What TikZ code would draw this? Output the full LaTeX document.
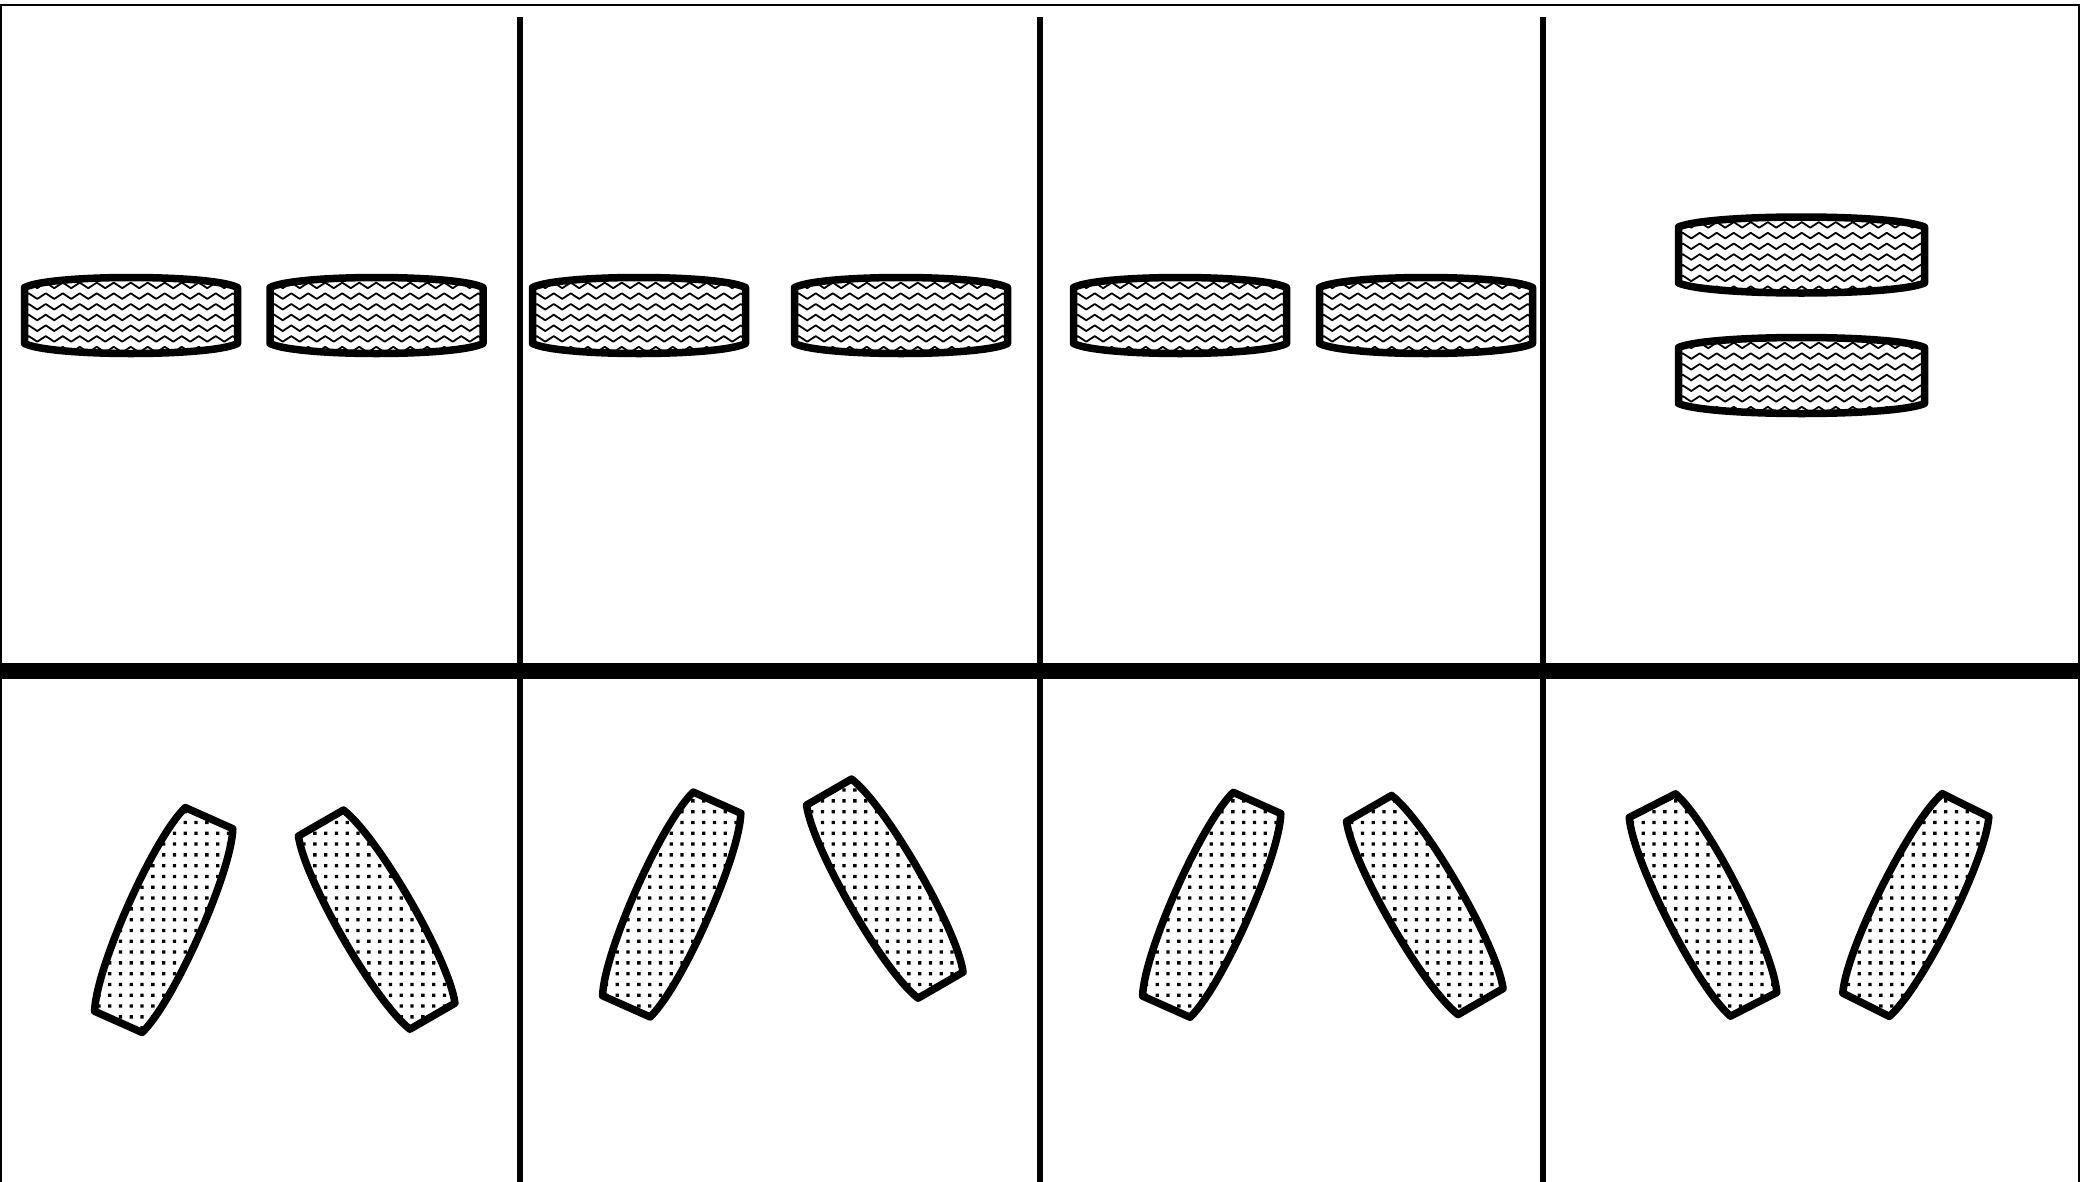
\documentclass[tikz,border=0pt]{standalone}
\usetikzlibrary{decorations.pathmorphing}
% lens-like outline: straight short sides, bulging long sides
% #1 length, #2 straight side, #3 bulge, #4 control inset
\newcommand{\lenspath}[4]{(-#1/2,-#2/2) -- (-#1/2,#2/2) .. controls (-#1/2+#4,#2/2+#3*4/3) and (#1/2-#4,#2/2+#3*4/3) .. (#1/2,#2/2) -- (#1/2,-#2/2) .. controls (#1/2-#4,-#2/2-#3*4/3) and (-#1/2+#4,-#2/2-#3*4/3) .. (-#1/2,-#2/2) -- cycle}
\tikzset{
  lensline/.style={draw=black, line width=7.5pt, line join=round},
  wavestyle/.style={draw=black, line width=1.8pt, line join=round, decorate, decoration={zigzag, segment length=17pt, amplitude=2.8pt}},
  framestyle/.style={draw=black, line width=1.5pt},
  dividerstyle/.style={draw=black, line width=5.5pt},
  barstyle/.style={draw=black, line width=16pt}
}
% wavy-filled lens: cx cy W h b
\newcommand{\wavylens}[5]{%
  \begin{scope}
    \clip[shift={(#1,#2)}] \lenspath{#3}{#4}{#5}{#3/8};
    \foreach \k in {-5,...,5}{
      \draw[wavestyle] ({#1-#3/2-34},{#2+10.7*\k+2}) -- ({#1+#3/2+34},{#2+10.7*\k+2});
    }
  \end{scope}
  \draw[lensline, shift={(#1,#2)}] \lenspath{#3}{#4}{#5}{#3/8};
}
% dotted lens: cx cy rot W h b
\newcommand{\dottedlens}[6]{%
  \begin{scope}
    \clip[shift={(#1,#2)}, rotate=#3] \lenspath{#4}{#5}{#6}{#4/5.5};
    \fill[black] \foreach \i in {-9,...,9}{ \foreach \j in {-13,...,13}{ ({10.8*(int(#1/10.8)+\i)},{10.8*(int(#2/10.8)+\j)}) rectangle ++(3.3,3.3) } };
  \end{scope}
  \draw[lensline, shift={(#1,#2)}, rotate=#3] \lenspath{#4}{#5}{#6}{#4/5.5};
}
\begin{document}
\begin{tikzpicture}[x=1pt, y=-1pt]
\useasboundingbox (0,0) rectangle (2080,1181);
\fill[white] (0,0) rectangle (2080,1181);
\clip (0,0) rectangle (2080,1181);

% frame
\draw[framestyle] (1,1195) -- (1,5) -- (2079,5) -- (2079,1195);
% dividers
\draw[dividerstyle] (520,17) -- (520,1195);
\draw[dividerstyle] (1040,17) -- (1040,1195);
\draw[dividerstyle] (1543,17) -- (1543,1195);
% thick horizontal bar
\draw[barstyle] (-5,671) -- (2085,671);

% top row: wavy lenses
\wavylens{131}{315.5}{213}{56}{10}
\wavylens{376.5}{315.5}{213}{56}{10}
\wavylens{639}{315.5}{213}{56}{10}
\wavylens{901}{315.5}{213}{56}{10}
\wavylens{1180}{315.5}{213}{56}{10}
\wavylens{1426}{315.5}{213}{56}{10}
\wavylens{1801.5}{255}{246}{56}{10}
\wavylens{1801.5}{375.5}{246}{56}{10}

% bottom row: dotted tilted lenses
\dottedlens{163.7}{920}{66}{223}{52}{12.5}
\dottedlens{376.7}{919.6}{120}{223}{52}{12.5}
\dottedlens{671.7}{904.5}{66}{223}{52}{12.5}
\dottedlens{884.8}{888.6}{120}{223}{52}{12.5}
\dottedlens{1211.7}{904.8}{66}{223}{52}{12.5}
\dottedlens{1424.8}{905}{120}{223}{52}{12.5}
\dottedlens{1703}{905}{117}{223}{52}{12.5}
\dottedlens{1915.8}{905}{63.5}{223}{52}{12.5}
\end{tikzpicture}
\end{document}
